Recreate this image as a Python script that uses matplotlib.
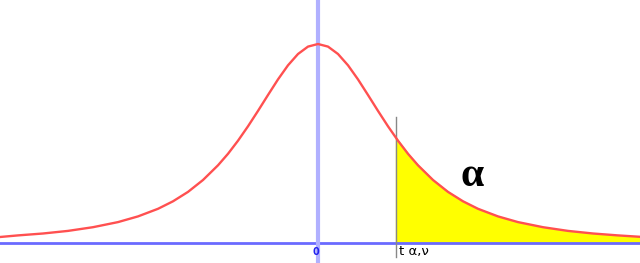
import numpy as np
import matplotlib.pyplot as plt

# puntos: t (unidades del eje) y altura de la densidad
t_vals = np.array([-3.975, -3.75, -3.4375, -3.125, -2.8125, -2.5, -2.25, -2.0,
                   -1.8125, -1.625, -1.4375, -1.25, -1.125, -1.0, -0.875, -0.75,
                   -0.625, -0.5, -0.375, -0.25, -0.125, 0.0,
                   0.125, 0.25, 0.375, 0.5, 0.625, 0.75, 0.875, 0.975, 1.0,
                   1.125, 1.25, 1.4375, 1.625, 1.8125, 2.0, 2.25, 2.5, 2.8125,
                   3.125, 3.4375, 3.75, 4.025])
altura = np.array([6.0, 7.6, 9.5, 12.1, 15.8, 20.9, 26.6, 34.2,
                   41.7, 51.1, 63.0, 77.7, 89.2, 102.3, 116.7, 132.1,
                   148.0, 163.6, 177.7, 189.0, 196.4, 199.0,
                   196.4, 189.0, 177.7, 163.6, 148.0, 132.1, 116.7, 105.2, 102.3,
                   89.2, 77.7, 63.0, 51.1, 41.7, 34.2, 26.6, 20.9, 15.8,
                   12.1, 9.5, 7.6, 6.2])
t_alpha = 0.975

fig = plt.figure(figsize=(6.4, 2.63), dpi=100)
ax = fig.add_axes([0, 0, 1, 1])
ax.set_xlim(-3.975, 4.025)
ax.set_ylim(-20, 243)
ax.axis('off')

# area alfa
mask = t_vals >= t_alpha
ax.fill_between(t_vals[mask], 0, altura[mask], color='#ffff00', zorder=1)

# ejes
ax.axhline(0, color='#6a6aff', lw=2, zorder=2)
ax.axvline(0, color='#b0b0ff', lw=3, zorder=2)
ax.plot([t_alpha, t_alpha], [-14, 126], color='#888888', lw=1, zorder=3)

# curva
ax.plot(t_vals, altura, color='#ff5050', lw=1.7, zorder=4)

ax.text(-0.03, -9, '0', color='#2020ee', fontsize=7, fontweight='bold',
        ha='center', va='center')
ax.text(t_alpha + 0.04, -9, 't α,ν', color='black', fontsize=9.5,
        ha='left', va='center')
ax.text(1.925, 67, 'α', color='black', fontsize=30, fontweight='bold',
        family='Liberation Serif', ha='center', va='center')

fig.savefig('out.png', dpi=100)
